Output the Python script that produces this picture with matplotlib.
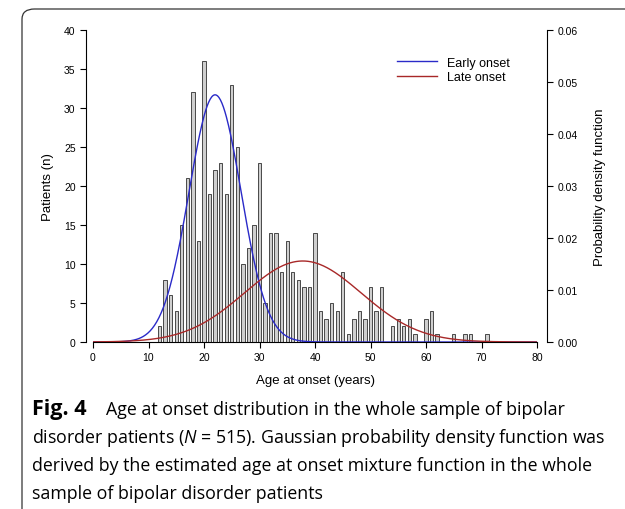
#!/usr/bin/env python3

import numpy as np
import matplotlib
matplotlib.use('Agg')
import matplotlib.pyplot as plt
from matplotlib.patches import FancyBboxPatch

plt.rcParams['font.family'] = ['Liberation Sans', 'DejaVu Sans']
plt.rcParams['mathtext.fontset'] = 'custom'
plt.rcParams['mathtext.it'] = 'Open Sans:italic'
plt.rcParams['mathtext.rm'] = 'Open Sans'

# Patients per age at onset (years 12..71)
ages = np.arange(12, 72)
patients = [2, 8, 6, 4, 15, 21, 32, 13, 36, 19,
            22, 23, 19, 33, 25, 10, 12, 15, 23, 5,
            14, 14, 9, 13, 9, 8, 7, 7, 14, 4,
            3, 5, 4, 9, 1, 3, 4, 3, 7, 4,
            7, 0, 2, 3, 2, 3, 1, 0, 3, 4,
            1, 0, 0, 1, 0, 1, 1, 0, 0, 1]

# Estimated mixture components (weight, mean, sd)
early_component = (0.56, 22.0, 4.7)
late_component = (0.41, 37.8, 10.5)

caption_lines = [
    "Age at onset distribution in the whole sample of bipolar",
    "disorder patients ($N$ = 515). Gaussian probability density function was",
    "derived by the estimated age at onset mixture function in the whole",
    "sample of bipolar disorder patients",
]


def gauss_pdf(x, comp):
    w, mu, sd = comp
    return w * np.exp(-0.5 * ((x - mu) / sd) ** 2) / (sd * np.sqrt(2 * np.pi))


fig = plt.figure(figsize=(6.25, 5.10), dpi=100)

# frame around figure + caption
frame = FancyBboxPatch((22 / 625, -0.2), 1.2, 1.2 + (1 - 10 / 510) - 1,
                       boxstyle="round,pad=0,rounding_size=0.02",
                       transform=fig.transFigure, fill=False,
                       edgecolor='#333333', linewidth=0.9)
fig.patches.append(frame)

ax = fig.add_axes([93 / 625, 167 / 510, 444 / 625, 312 / 510])
ax.bar(ages, patients, width=0.6, color='#cfcfcf', edgecolor='#303030',
       linewidth=0.6, zorder=2)
ax.set_xlim(0, 80)
ax.set_ylim(0, 40)
ax.set_xticks(range(0, 81, 10))
ax.set_yticks(range(0, 41, 5))
ax.spines['top'].set_visible(False)
ax.spines['right'].set_visible(False)
ax.spines['left'].set_position(('outward', 5))
ax.tick_params(labelsize=7.5, length=4, width=0.8)
ax.set_xlabel('Age at onset (years)', fontsize=9.5, labelpad=8)
ax.set_ylabel('Patients (n)', fontsize=9.5, labelpad=7)

ax2 = ax.twinx()
x = np.linspace(0, 80, 600)
ax2.plot(x, gauss_pdf(x, early_component), color='#2a2ac8', lw=1.0,
         label='Early onset', zorder=3)
ax2.plot(x, gauss_pdf(x, late_component), color='#a82828', lw=1.0,
         label='Late onset', zorder=3)
ax2.set_ylim(0, 0.06)
ax2.set_yticks(np.arange(0, 0.061, 0.01))
ax2.set_yticklabels(['%.2f' % v for v in np.arange(0, 0.061, 0.01)])
ax2.spines['top'].set_visible(False)
ax2.spines['left'].set_visible(False)
ax2.spines['bottom'].set_visible(False)
ax2.spines['right'].set_position(('outward', 7))
ax2.tick_params(labelsize=7.5, length=4, width=0.8)
ax2.set_ylabel('Probability density function', fontsize=9.5, labelpad=12)
ax2.legend(loc='upper right', bbox_to_anchor=(0.965, 0.95), frameon=False,
           fontsize=9, handlelength=3.2, labelspacing=0.2)

# caption
y0 = 1 - 410 / 510
fig.text(32 / 625, y0, 'Fig. 4', fontsize=15.5, fontweight='bold',
         family='Open Sans', va='center', color='black')
fig.text(106 / 625, y0, caption_lines[0], fontsize=12.8,
         family='Open Sans', va='center', color='black')
for i, line in enumerate(caption_lines[1:]):
    fig.text(32 / 625, y0 - (i + 1) * 28 / 510, line, fontsize=12.8,
             family='Open Sans', va='center', color='black')

fig.savefig('out.png', dpi=100)
